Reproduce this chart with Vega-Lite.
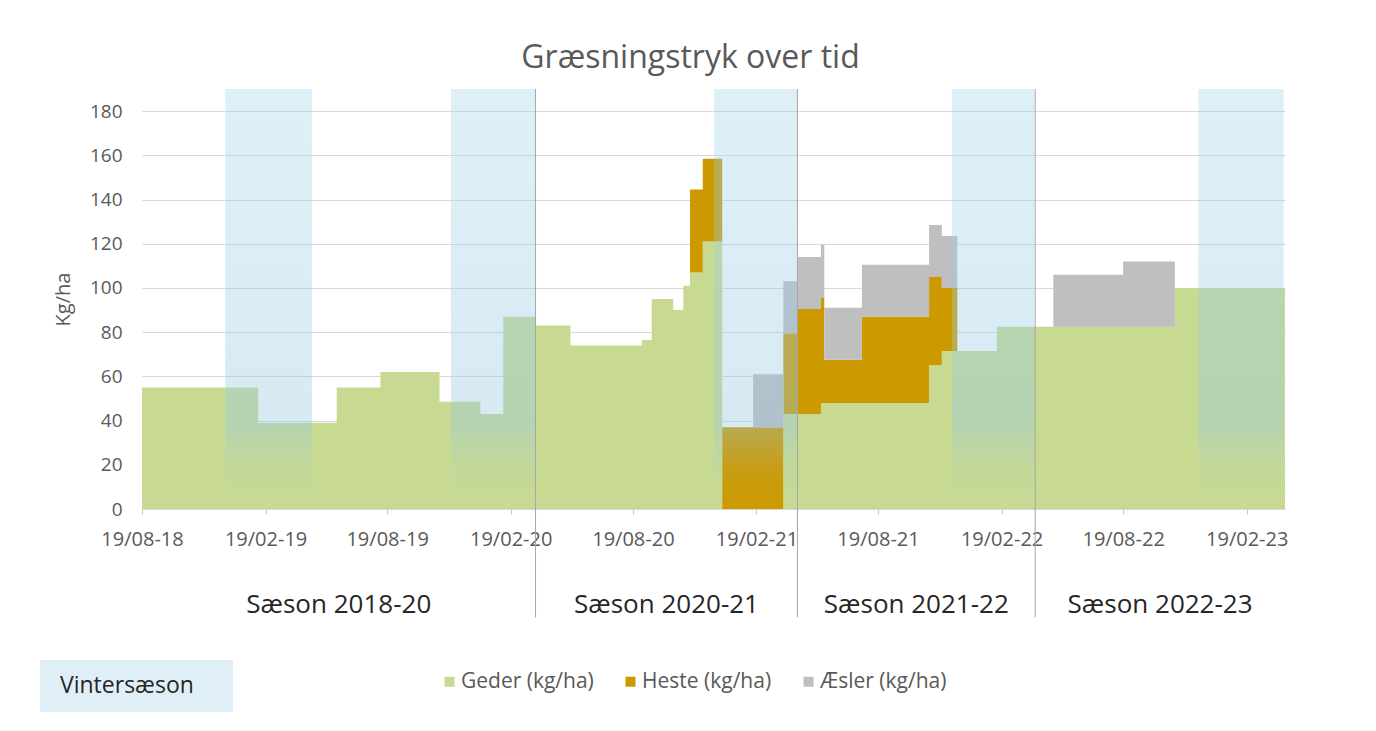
{
  "$schema": "https://vega.github.io/schema/vega-lite/v6.json",
  "width": 1143,
  "height": 420,
  "autosize": {"type": "none"},
  "padding": {"left": 142, "top": 89, "right": 91, "bottom": 222},
  "background": "white",
  "config": {"view": {"stroke": null}, "font": "Open Sans"},
  "title": {"text": "Græsningstryk over tid", "fontSize": 32, "fontWeight": "normal", "color": "#595959", "anchor": "middle", "dx": -23, "offset": 14, "font": "Open Sans"},
  "datasets": {
    "stryk": [
      {"d": "2018-08-19", "Geder": 55, "Heste": 0, "Æsler": 0},
      {"d": "2019-02-08", "Geder": 39, "Heste": 0, "Æsler": 0},
      {"d": "2019-06-05", "Geder": 55, "Heste": 0, "Æsler": 0},
      {"d": "2019-08-09", "Geder": 62, "Heste": 0, "Æsler": 0},
      {"d": "2019-11-05", "Geder": 48.5, "Heste": 0, "Æsler": 0},
      {"d": "2020-01-05", "Geder": 43, "Heste": 0, "Æsler": 0},
      {"d": "2020-02-08", "Geder": 87, "Heste": 0, "Æsler": 0},
      {"d": "2020-03-27", "Geder": 83, "Heste": 0, "Æsler": 0},
      {"d": "2020-05-18", "Geder": 74, "Heste": 0, "Æsler": 0},
      {"d": "2020-09-01", "Geder": 76.5, "Heste": 0, "Æsler": 0},
      {"d": "2020-09-16", "Geder": 95, "Heste": 0, "Æsler": 0},
      {"d": "2020-10-18", "Geder": 90, "Heste": 0, "Æsler": 0},
      {"d": "2020-11-02", "Geder": 101, "Heste": 0, "Æsler": 0},
      {"d": "2020-11-12", "Geder": 107, "Heste": 37.5, "Æsler": 0},
      {"d": "2020-12-01", "Geder": 121, "Heste": 37.5, "Æsler": 0},
      {"d": "2020-12-30", "Geder": 0, "Heste": 37, "Æsler": 0},
      {"d": "2021-02-14", "Geder": 0, "Heste": 37, "Æsler": 24},
      {"d": "2021-03-31", "Geder": 43, "Heste": 36.5, "Æsler": 23.5},
      {"d": "2021-04-21", "Geder": 43, "Heste": 47.5, "Æsler": 23.5},
      {"d": "2021-05-26", "Geder": 48, "Heste": 47.5, "Æsler": 24},
      {"d": "2021-05-31", "Geder": 48, "Heste": 19.5, "Æsler": 23.5},
      {"d": "2021-07-26", "Geder": 48, "Heste": 39, "Æsler": 23.5},
      {"d": "2021-11-03", "Geder": 65, "Heste": 40, "Æsler": 23.5},
      {"d": "2021-11-22", "Geder": 71.5, "Heste": 28.5, "Æsler": 23.5},
      {"d": "2021-12-15", "Geder": 71.5, "Heste": 0, "Æsler": 0},
      {"d": "2022-02-12", "Geder": 82.5, "Heste": 0, "Æsler": 0},
      {"d": "2022-05-07", "Geder": 82.5, "Heste": 0, "Æsler": 23.5},
      {"d": "2022-08-19", "Geder": 82.5, "Heste": 0, "Æsler": 29.5},
      {"d": "2022-11-04", "Geder": 100, "Heste": 0, "Æsler": 0},
      {"d": "2023-04-17", "Geder": 100, "Heste": 0, "Æsler": 0}
    ],
    "vinter": [
      {"a": "2018-12-21", "b": "2019-04-29"},
      {"a": "2019-11-22", "b": "2020-03-27"},
      {"a": "2020-12-18", "b": "2021-04-21"},
      {"a": "2021-12-07", "b": "2022-04-09"},
      {"a": "2022-12-09", "b": "2023-04-15"}
    ],
    "skel": [
      {"d": "2020-03-27"},
      {"d": "2021-04-21"},
      {"d": "2022-04-10"}
    ],
    "saeson": [
      {"d": "2019-06-08", "t": "Sæson 2018-20"},
      {"d": "2020-10-08", "t": "Sæson 2020-21"},
      {"d": "2021-10-15", "t": "Sæson 2021-22"},
      {"d": "2022-10-13", "t": "Sæson 2022-23"}
    ],
    "vleg": [{"k": "Vintersæson"}]
  },
  "layer": [
    {
      "data": {"name": "stryk"},
      "transform": [{"fold": ["Geder", "Heste", "Æsler"], "as": ["s", "v"]}],
      "mark": {"type": "area", "interpolate": "step-after"},
      "encoding": {
        "x": {
          "field": "d", "type": "temporal",
          "scale": {"type": "utc", "domain": [{"year": 2018, "month": 8, "date": 19, "utc": true}, {"year": 2023, "month": 4, "date": 17, "utc": true}]},
          "axis": {
            "title": null,
            "values": [
              {"year": 2018, "month": 8, "date": 19, "utc": true},
              {"year": 2019, "month": 2, "date": 19, "utc": true},
              {"year": 2019, "month": 8, "date": 19, "utc": true},
              {"year": 2020, "month": 2, "date": 19, "utc": true},
              {"year": 2020, "month": 8, "date": 19, "utc": true},
              {"year": 2021, "month": 2, "date": 19, "utc": true},
              {"year": 2021, "month": 8, "date": 19, "utc": true},
              {"year": 2022, "month": 2, "date": 19, "utc": true},
              {"year": 2022, "month": 8, "date": 19, "utc": true},
              {"year": 2023, "month": 2, "date": 19, "utc": true}
            ],
            "labelExpr": "utcFormat(datum.value, '%d/%m-%y')",
            "labelFontSize": 20, "labelColor": "#595959", "labelFont": "Open Sans",
            "labelFlush": false, "labelOverlap": false, "labelPadding": 15,
            "grid": false, "domainColor": "#d9d9d9", "tickColor": "#c8c8c8", "tickSize": 5
          }
        },
        "y": {
          "field": "v", "type": "quantitative", "stack": "zero",
          "scale": {"domain": [0, 190], "nice": false},
          "axis": {
            "values": [0, 20, 40, 60, 80, 100, 120, 140, 160, 180],
            "grid": true, "gridColor": "#d9d9d9", "domain": false, "ticks": false,
            "labelFontSize": 19, "labelColor": "#595959", "labelFont": "Open Sans", "labelPadding": 20,
            "title": "Kg/ha", "titleFontSize": 20, "titleFontWeight": "normal", "titleColor": "#595959", "titleFont": "Open Sans", "titlePadding": 16
          }
        },
        "color": {
          "field": "s", "type": "nominal",
          "scale": {"domain": ["Geder", "Heste", "Æsler"], "range": ["#c8da92", "#cc9900", "#bfbfbf"]},
          "legend": {
            "title": null, "orient": "none", "legendX": 297, "legendY": 582, "direction": "horizontal",
            "symbolType": "square", "symbolSize": 100, "symbolStrokeWidth": 0,
            "labelFontSize": 21, "labelColor": "#595959", "labelFont": "Open Sans",
            "columnPadding": 26, "labelOffset": 1, "padding": 0,
            "labelExpr": "datum.label + ' (kg/ha)'"
          }
        },
        "order": {"field": "s", "sort": "ascending"}
      }
    },
    {
      "data": {"name": "vinter"},
      "mark": {
        "type": "rect",
        "fill": {"gradient": "linear", "x1": 0, "y1": 0, "x2": 0, "y2": 1,
          "stops": [
            {"offset": 0, "color": "rgba(160,210,232,0.35)"},
            {"offset": 0.8, "color": "rgba(150,200,225,0.38)"},
            {"offset": 0.9, "color": "rgba(150,200,225,0.1)"},
            {"offset": 1, "color": "rgba(150,200,225,0)"}
          ]}
      },
      "encoding": {
        "x": {"field": "a", "type": "temporal"},
        "x2": {"field": "b"}
      }
    },
    {
      "data": {"name": "skel"},
      "mark": {"type": "rule", "color": "#a6a6a6", "strokeWidth": 1},
      "encoding": {
        "x": {"field": "d", "type": "temporal"},
        "y": {"datum": 190, "type": "quantitative"},
        "y2": {"datum": -49}
      }
    },
    {
      "data": {"name": "saeson"},
      "mark": {"type": "text", "fontSize": 26, "color": "#262626", "baseline": "middle", "font": "Open Sans"},
      "encoding": {
        "x": {"field": "d", "type": "temporal"},
        "y": {"datum": -43.4, "type": "quantitative"},
        "text": {"field": "t"}
      }
    },
    {
      "data": {"name": "vleg"},
      "mark": {"type": "point", "opacity": 0, "filled": true},
      "encoding": {
        "fill": {
          "field": "k", "type": "nominal",
          "scale": {"range": ["#e0eff7"]},
          "legend": {
            "title": null, "orient": "none", "legendX": -102, "legendY": 500.5,
            "symbolType": "M-1,-0.2694H1V0.2694H-1Z", "symbolSize": 37249, "symbolOpacity": 1, "symbolStrokeWidth": 0,
            "labelOffset": -173, "labelFontSize": 23, "labelColor": "#262626", "labelFont": "Open Sans", "labelLimit": 300, "padding": 0
          }
        }
      }
    }
  ]
}
